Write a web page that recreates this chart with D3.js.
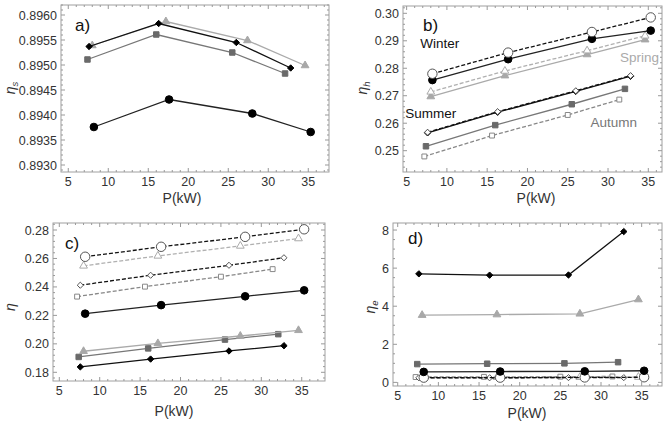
<!DOCTYPE html>
<html>
<head>
<meta charset="utf-8">
<script src="https://cdn.jsdelivr.net/npm/d3@7"></script>
<style>
  body { margin: 0; background: #fff; }
  text { font-family: "Liberation Sans", Arial, sans-serif; }
</style>
</head>
<body>
<svg id="svg" width="663" height="426"></svg>
<script>
// power (kW) at which each season was evaluated
var pWinter = [8.2, 17.6, 28.0, 35.3];
var pSpring = [8.0, 17.2, 27.4, 34.6];
var pSummer = [7.6, 16.3, 26.0, 32.8];
var pAutumn = [7.4, 16.0, 25.5, 32.1];
var pAutumnOpen = [7.2, 15.6, 25.0, 31.4];

var xTicks = [5, 10, 15, 20, 25, 30, 35];

// a) eta_s
var etaS_winter = [0.89376, 0.89431, 0.89403, 0.89366];
var etaS_spring = [0.89539, 0.89587, 0.89549, 0.89499];
var etaS_summer = [0.89537, 0.89583, 0.89545, 0.89494];
var etaS_autumn = [0.89511, 0.89561, 0.89525, 0.89483];
var yTicksA = [0.8930, 0.8935, 0.8940, 0.8945, 0.8950, 0.8955, 0.8960];

// b) eta_h
var etaH_winter = [0.2757, 0.2833, 0.2907, 0.2937];
var etaH_winterOpen = [0.2780, 0.2857, 0.2932, 0.2985];
var etaH_spring = [0.2697, 0.2773, 0.2850, 0.2904];
var etaH_springOpen = [0.2714, 0.2790, 0.2864, 0.2918];
var etaH_summer = [0.2565, 0.2640, 0.2716, 0.2771];
var etaH_summerOpen = [0.2567, 0.2642, 0.2718, 0.2773];
var etaH_autumn = [0.2516, 0.2593, 0.2669, 0.2725];
var etaH_autumnOpen = [0.2479, 0.2555, 0.2630, 0.2686];
var yTicksB = [0.25, 0.26, 0.27, 0.28, 0.29, 0.30];

// c) eta
var eta_winter = [0.2212, 0.2272, 0.2334, 0.2376];
var eta_winterOpen = [0.2612, 0.2682, 0.2752, 0.2805];
var eta_spring = [0.1948, 0.2003, 0.2055, 0.2095];
var eta_springOpen = [0.2548, 0.2618, 0.2688, 0.2740];
var eta_summer = [0.1838, 0.1893, 0.1950, 0.1987];
var eta_summerOpen = [0.2412, 0.2482, 0.2552, 0.2605];
var eta_autumn = [0.1908, 0.1968, 0.2030, 0.2068];
var eta_autumnOpen = [0.2332, 0.2402, 0.2472, 0.2525];
var yTicksC = [0.18, 0.20, 0.22, 0.24, 0.26, 0.28];

// d) eta_e
var etaE_winter = [0.55, 0.57, 0.58, 0.61];
var etaE_winterOpen = [0.25, 0.25, 0.26, 0.27];
var etaE_spring = [3.53, 3.56, 3.60, 4.35];
var etaE_springOpen = [0.26, 0.27, 0.27, 0.28];
var etaE_summer = [5.70, 5.63, 5.64, 7.92];
var etaE_summerOpen = [0.24, 0.24, 0.25, 0.25];
var etaE_autumn = [0.96, 0.98, 1.00, 1.06];
var etaE_autumnOpen = [0.28, 0.29, 0.30, 0.31];
var yTicksD = [0, 2, 4, 6, 8];

// season names written inside panel b
var seasonNames = ["Winter", "Spring", "Summer", "Autumn"];
var seasonNameAt = [[9.1, 0.2892], [33.9, 0.2840], [8.0, 0.2636], [30.7, 0.2604]];

// marker / line styles
var styles = {
    winter:     { sym: d3.symbolCircle,   size: 46, fill: "#000", stroke: "#000", line: "#222", dash: null },
    winterOpen: { sym: d3.symbolCircle,   size: 70, fill: "#fff", stroke: "#555", line: "#111", dash: "4,2" },
    spring:     { sym: d3.symbolTriangle, size: 26, fill: "#a8a8a8", stroke: "#a8a8a8", line: "#aaa", dash: null },
    springOpen: { sym: d3.symbolTriangle, size: 26, fill: "#fff", stroke: "#aaa", line: "#b0b0b0", dash: "4,2" },
    summer:     { sym: d3.symbolDiamond2, size: 26, fill: "#000", stroke: "#000", line: "#111", dash: null },
    summerOpen: { sym: d3.symbolDiamond2, size: 24, fill: "#fff", stroke: "#555", line: "#111", dash: "4,2" },
    autumn:     { sym: d3.symbolSquare,   size: 30, fill: "#6a6a6a", stroke: "#6a6a6a", line: "#777", dash: null },
    autumnOpen: { sym: d3.symbolSquare,   size: 24, fill: "#fff", stroke: "#888", line: "#888", dash: "4,2" }
};

var svg = d3.select("#svg");

function drawPanel(cfg, series) {
    var g = svg.append("g");
    var x = d3.scaleLinear().domain(cfg.xDomain).range([cfg.left, cfg.right]);
    var y = d3.scaleLinear().domain(cfg.yDomain).range([cfg.bottom, cfg.top]);

    g.append("rect")
        .attr("x", cfg.left).attr("y", cfg.top)
        .attr("width", cfg.right - cfg.left).attr("height", cfg.bottom - cfg.top)
        .attr("fill", "none").attr("stroke", "#a0a0a0").attr("stroke-width", 1);

    // minor + major ticks on all four sides, pointing in
    var xMinor = d3.range(Math.ceil(cfg.xDomain[0]), cfg.xDomain[1], 1);
    xMinor.forEach(function (v) {
        var len = xTicks.indexOf(v) >= 0 ? 4 : 2;
        g.append("line").attr("x1", x(v)).attr("x2", x(v)).attr("y1", cfg.bottom).attr("y2", cfg.bottom - len).attr("stroke", "#999");
        g.append("line").attr("x1", x(v)).attr("x2", x(v)).attr("y1", cfg.top).attr("y2", cfg.top + len).attr("stroke", "#999");
    });
    var n0 = Math.ceil(cfg.yDomain[0] / cfg.yMinor - 1e-6), n1 = Math.floor(cfg.yDomain[1] / cfg.yMinor + 1e-6);
    d3.range(n0, n1 + 1).forEach(function (k) {
        var v = k * cfg.yMinor;
        var major = cfg.yTicks.some(function (t) { return Math.abs(t - v) < cfg.yMinor / 10; });
        var len = major ? 4 : 2;
        g.append("line").attr("x1", cfg.left).attr("x2", cfg.left + len).attr("y1", y(v)).attr("y2", y(v)).attr("stroke", "#999");
        g.append("line").attr("x1", cfg.right).attr("x2", cfg.right - len).attr("y1", y(v)).attr("y2", y(v)).attr("stroke", "#999");
    });

    // tick labels
    g.selectAll(".xl").data(xTicks).enter().append("text")
        .attr("x", function (d) { return x(d); })
        .attr("y", cfg.bottom + 14)
        .attr("text-anchor", "middle")
        .attr("font-size", 12.5).attr("fill", "#333")
        .text(function (d) { return d; });
    g.selectAll(".yl").data(cfg.yTicks).enter().append("text")
        .attr("x", cfg.left - 4)
        .attr("y", function (d) { return y(d) + 4.5; })
        .attr("text-anchor", "end")
        .attr("font-size", 12.5).attr("fill", "#333")
        .text(function (d) { return d3.format(cfg.fmt)(d); });

    // axis titles
    g.append("text")
        .attr("x", cfg.xTitle[0]).attr("y", cfg.xTitle[1])
        .attr("text-anchor", "middle").attr("font-size", 14).attr("fill", "#333")
        .text("P(kW)");
    var yt = g.append("text")
        .attr("transform", "translate(" + cfg.yTitle[0] + "," + cfg.yTitle[1] + ") rotate(-90)")
        .attr("text-anchor", "middle").attr("font-size", 14).attr("fill", "#333");
    yt.append("tspan").attr("font-style", "italic").text("η");
    if (cfg.ySub) {
        yt.append("tspan").attr("font-size", 9.5).attr("font-style", "italic").attr("dy", 3).text(cfg.ySub);
    }

    g.append("text")
        .attr("x", cfg.tag[0]).attr("y", cfg.tag[1])
        .attr("font-size", 17).attr("fill", "#111")
        .text(cfg.tagText);

    var line = d3.line()
        .x(function (d) { return x(d[0]); })
        .y(function (d) { return y(d[1]); });

    series.forEach(function (s) {
        var st = styles[s.style];
        var pts = s.x.map(function (v, i) { return [v, s.y[i]]; });
        g.append("path")
            .attr("d", line(pts))
            .attr("fill", "none")
            .attr("stroke", st.line)
            .attr("stroke-width", 1.3)
            .attr("stroke-dasharray", st.dash);
        g.selectAll(null).data(pts).enter().append("path")
            .attr("transform", function (d) { return "translate(" + x(d[0]) + "," + y(d[1]) + ")"; })
            .attr("d", d3.symbol().type(st.sym).size(st.size))
            .attr("fill", st.fill)
            .attr("stroke", st.stroke)
            .attr("stroke-width", 1);
    });

    return { x: x, y: y, g: g };
}

// a)
drawPanel({
    left: 61, right: 329, top: 5, bottom: 172,
    xDomain: [4.09, 37.59], yDomain: [0.89286, 0.8962],
    yTicks: yTicksA, yMinor: 0.0001, fmt: ".4f",
    xTitle: [182, 203], yTitle: [15, 88], ySub: "s",
    tag: [75, 31], tagText: "a)"
}, [
    { x: pWinter, y: etaS_winter, style: "winter" },
    { x: pAutumn, y: etaS_autumn, style: "autumn" },
    { x: pSpring, y: etaS_spring, style: "spring" },
    { x: pSummer, y: etaS_summer, style: "summer" }
]);

// b)
var pb = drawPanel({
    left: 403, right: 662, top: 6, bottom: 172,
    xDomain: [4.55, 36.7], yDomain: [0.24224, 0.30266],
    yTicks: yTicksB, yMinor: 0.002, fmt: ".2f",
    xTitle: [536, 203], yTitle: [367, 88], ySub: "h",
    tag: [423, 31], tagText: "b)"
}, [
    { x: pAutumnOpen, y: etaH_autumnOpen, style: "autumnOpen" },
    { x: pAutumn, y: etaH_autumn, style: "autumn" },
    { x: pSpring, y: etaH_spring, style: "spring" },
    { x: pSpring, y: etaH_springOpen, style: "springOpen" },
    { x: pSummer, y: etaH_summer, style: "summer" },
    { x: pSummer, y: etaH_summerOpen, style: "summerOpen" },
    { x: pWinter, y: etaH_winter, style: "winter" },
    { x: pWinter, y: etaH_winterOpen, style: "winterOpen" }
]);
var nameColors = ["#111", "#aaa", "#111", "#777"];
pb.g.selectAll(".season").data(seasonNames).enter().append("text")
    .attr("x", function (d, i) { return pb.x(seasonNameAt[i][0]); })
    .attr("y", function (d, i) { return pb.y(seasonNameAt[i][1]) + 5; })
    .attr("text-anchor", "middle")
    .attr("font-size", 13.5)
    .attr("fill", function (d, i) { return nameColors[i]; })
    .text(function (d) { return d; });

// c)
drawPanel({
    left: 53, right: 325, top: 223, bottom: 381,
    xDomain: [4.22, 37.88], yDomain: [0.17389, 0.28492],
    yTicks: yTicksC, yMinor: 0.004, fmt: ".2f",
    xTitle: [174, 416], yTitle: [15, 307], ySub: null,
    tag: [65, 249], tagText: "c)"
}, [
    { x: pSummer, y: eta_summer, style: "summer" },
    { x: pAutumn, y: eta_autumn, style: "autumn" },
    { x: pSpring, y: eta_spring, style: "spring" },
    { x: pWinter, y: eta_winter, style: "winter" },
    { x: pAutumnOpen, y: eta_autumnOpen, style: "autumnOpen" },
    { x: pSummer, y: eta_summerOpen, style: "summerOpen" },
    { x: pSpring, y: eta_springOpen, style: "springOpen" },
    { x: pWinter, y: eta_winterOpen, style: "winterOpen" }
]);

// d)
drawPanel({
    left: 393, right: 662, top: 223, bottom: 386,
    xDomain: [4.42, 37.5], yDomain: [-0.19, 8.37],
    yTicks: yTicksD, yMinor: 0.5, fmt: "d",
    xTitle: [527, 418], yTitle: [375, 307], ySub: "e",
    tag: [408, 244], tagText: "d)"
}, [
    { x: pAutumnOpen, y: etaE_autumnOpen, style: "autumnOpen" },
    { x: pSpring, y: etaE_springOpen, style: "springOpen" },
    { x: pSummer, y: etaE_summerOpen, style: "summerOpen" },
    { x: pWinter, y: etaE_winterOpen, style: "winterOpen" },
    { x: pWinter, y: etaE_winter, style: "winter" },
    { x: pAutumn, y: etaE_autumn, style: "autumn" },
    { x: pSpring, y: etaE_spring, style: "spring" },
    { x: pSummer, y: etaE_summer, style: "summer" }
]);
</script>
</body>
</html>
